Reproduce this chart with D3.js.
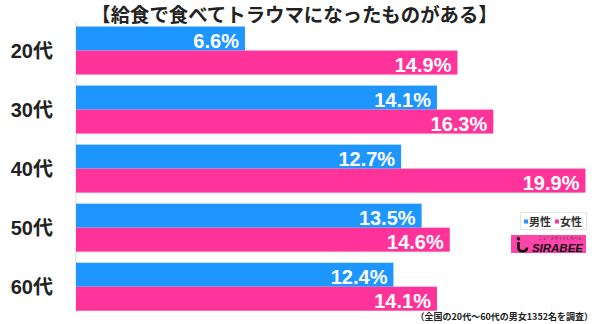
<!DOCTYPE html>
<html><head><meta charset="utf-8">
<script src="https://cdn.jsdelivr.net/npm/d3@7"></script>
<style>
html,body{margin:0;padding:0;background:#fff;}
svg{display:block;}
</style></head>
<body>
<svg id="chart" width="600" height="324"></svg>
<script>
const title = "【給食で食べてトラウマになったものがある】";
const categories = ["20代","30代","40代","50代","60代"];
const seriesNames = ["男性","女性"];
const maleValues = [6.6,14.1,12.7,13.5,12.4];
const femaleValues = [14.9,16.3,19.9,14.6,14.1];
const footnote = "（全国の20代～60代の男女1352名を調査）";
const logoText = "SIRABEE";
const logoSub = "ニュースサイトしらべぇ";

const colors = {"男性":"#1E96FF","女性":"#FF3399"};
const data = categories.map((c,i)=>({cat:c, values:[{s:"男性",v:maleValues[i]},{s:"女性",v:femaleValues[i]}]}));

const svg = d3.select("#chart");
const x = d3.scaleLinear().domain([0,20.5]).range([76,600.8]);
const y = d3.scaleBand().domain(categories).range([21,316.25]).paddingInner(0.187).paddingOuter(0.0935);
const ySub = d3.scaleBand().domain(seriesNames).range([0,y.bandwidth()]);

// title
svg.append("text").attr("x",294.5).attr("y",22.4).attr("text-anchor","middle")
  .attr("font-family","'Noto Sans CJK JP',sans-serif").attr("font-weight","bold")
  .attr("font-size",19.4).attr("fill","#222").text(title);

// axis line
svg.append("line").attr("x1",76).attr("x2",76).attr("y1",21).attr("y2",312)
  .attr("stroke","#d9d9d9").attr("stroke-width",1);

// category labels
const yAxis = d3.axisLeft(y).tickSize(0).tickPadding(0);
const ga = svg.append("g").attr("transform","translate(53,0)").call(yAxis);
ga.select(".domain").remove();
ga.selectAll("text").attr("font-family","'Liberation Sans','Noto Sans CJK JP',sans-serif")
  .attr("font-weight","bold").attr("font-size",20).attr("fill","#222").attr("dy","0.35em");

// bars
const groups = svg.selectAll("g.grp").data(data).join("g").attr("class","grp")
  .attr("transform",d=>`translate(0,${y(d.cat)})`);
groups.selectAll("rect").data(d=>d.values).join("rect")
  .attr("x",x(0)).attr("y",d=>ySub(d.s)).attr("width",d=>x(d.v)-x(0))
  .attr("height",ySub.bandwidth()).attr("fill",d=>colors[d.s]);
groups.selectAll("text").data(d=>d.values).join("text")
  .attr("x",d=>x(d.v)-6).attr("y",d=>ySub(d.s)+ySub.bandwidth()-2.3)
  .attr("text-anchor","end").attr("font-family","'Liberation Sans',Arial,sans-serif")
  .attr("font-weight","bold").attr("font-size",20).attr("fill","#fff")
  .text(d=>d.v.toFixed(1)+"%");

// legend
const lg = svg.append("g");
lg.append("rect").attr("x",520.5).attr("y",212.5).attr("width",66).attr("height",17)
  .attr("fill","#fff").attr("stroke","#c8c8c8").attr("stroke-dasharray","1,1");
const legX = [524,555];
seriesNames.forEach((s,i)=>{
  lg.append("rect").attr("x",legX[i]).attr("y",219.5).attr("width",4).attr("height",4).attr("fill",colors[s]);
  lg.append("text").attr("x",legX[i]+5).attr("y",225.5)
    .attr("font-family","'Noto Sans CJK JP',sans-serif").attr("font-weight","bold")
    .attr("font-size",11).attr("fill","#333").text(s);
});

// logo
const lo = svg.append("g");
lo.append("rect").attr("x",511).attr("y",235).attr("width",75).attr("height",18).attr("fill","#FF44AA");
lo.append("circle").attr("cx",518.5).attr("cy",238.8).attr("r",1.8).attr("fill","#111");
lo.append("path").attr("d","M518.5,242 L518.5,248 Q518.5,251.2 522.5,251.2 Q527,251.2 527,247.5")
  .attr("fill","none").attr("stroke","#111").attr("stroke-width",2.6);
lo.append("text").attr("x",583).attr("y",251.5).attr("text-anchor","end")
  .attr("font-family","'Liberation Sans',Arial,sans-serif").attr("font-weight","bold")
  .attr("font-style","italic").attr("font-size",11.5).attr("fill","#111").text(logoText);
lo.append("text").attr("x",582).attr("y",239.6).attr("text-anchor","end")
  .attr("font-family","'Noto Sans CJK JP',sans-serif").attr("font-size",4).attr("fill","#333").text(logoSub);

// footnote
svg.append("text").attr("x",593).attr("y",319.5).attr("text-anchor","end")
  .attr("font-family","'Noto Sans CJK JP',sans-serif").attr("font-weight","bold")
  .attr("font-size",9).attr("fill","#222").text(footnote);
</script>
</body></html>
